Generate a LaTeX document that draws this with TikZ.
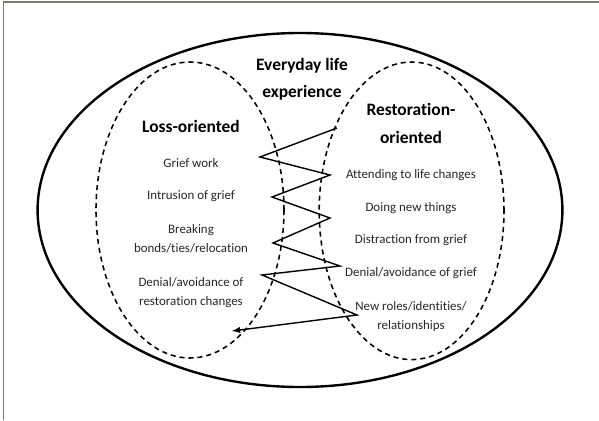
\documentclass[tikz,border=0pt]{standalone}
\usepackage{fontspec}
\setmainfont{Carlito}[Ligatures={NoCommon,NoRare,NoContextual}]
\usetikzlibrary{positioning}
\usetikzlibrary{arrows}
\usetikzlibrary{shapes.geometric}
\definecolor{framegray}{RGB}{125,125,115}

\begin{document}
\begin{tikzpicture}[
		item/.style={align=center, text=black!85, font=\fontsize{9.2}{13.5}\selectfont},
		head/.style={align=center, font=\fontsize{12.4}{19.5}\selectfont\bfseries},
		side/.style={draw, ellipse, dashed, line width=1.1pt, dash pattern=on 3.6pt off 2.8pt}
	]
			\useasboundingbox (-7.5,5.25) rectangle (7.475,-5.25);
			\draw[framegray, line width=0.8pt] (-7.42,-5.25) -- (-7.42,5.2) -- (7.475,5.2);

			\node[draw, ellipse, line width=1.7pt, minimum width=13.12cm, minimum height=8.85cm] (life) at (0,0) {};
			\node[side, minimum width=4.7cm, minimum height=7.4cm] (loss) at (-2.75,0) {};
			\node[side, minimum width=4.62cm, minimum height=7.44cm] (rest) at (2.79,-0.02) {};

			\node[head] (every) at (0.05,3.275) {Everyday life\\experience};
			\node[head] (losshead) at (-2.725,2.1) {Loss-oriented};
			\node[head] (resthead) at (2.775,2.16) {Restoration-\\oriented};

			\node[item] (grief) at (-2.725,1.175) {Grief work};
			\node[item] (intrusion) at (-2.725,0.35) {Intrusion of grief};
			\node[item] (bonds) at (-2.725,-0.71) {Breaking\\bonds/ties/relocation};
			\node[item] (denialr) at (-2.725,-2.075) {Denial/avoidance of\\restoration changes};

			\node[item] (attend) at (2.775,0.875) {Attending to life changes};
			\node[item] (doing) at (2.775,0.05) {Doing new things};
			\node[item] (distract) at (2.775,-0.75) {Distraction from grief};
			\node[item] (denialg) at (2.775,-1.575) {Denial/avoidance of grief};
			\node[item] (roles) at (2.775,-2.675) {New roles/identities/\\relationships};

			% oscillation
			\coordinate (z1) at (0.925,2.05);
			\coordinate (z2) at (-1.0,1.325);
			\coordinate (z3) at (0.75,0.875);
			\coordinate (z4) at (-0.7,0.325);
			\coordinate (z5) at (0.75,-0.2);
			\coordinate (z6) at (-0.675,-0.825);
			\coordinate (z7) at (1.0,-1.4);
			\coordinate (z8) at (-0.95,-1.625);
			\coordinate (z9) at (1.425,-2.625);
			\coordinate (z10) at (-1.7,-3.025);
			\draw[-latex, line width=1pt] (z1) -- (z2) -- (z3) -- (z4) -- (z5) -- (z6) -- (z7) -- (z8) -- (z9) -- (z10);
		\end{tikzpicture}
\end{document}
